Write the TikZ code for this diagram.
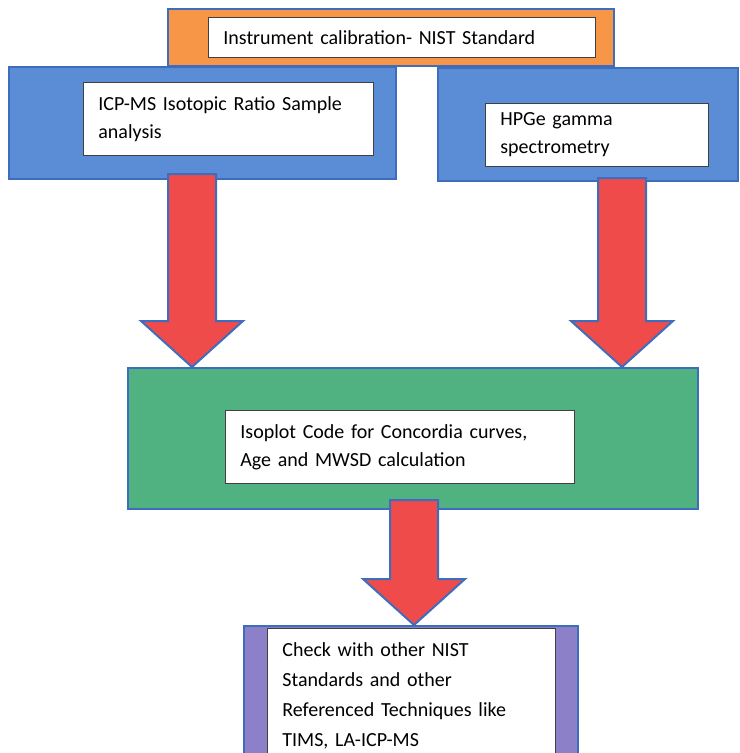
\documentclass[tikz,border=0pt]{standalone}
\usepackage{fontspec}
\setmainfont{Carlito}
\usepackage{xcolor}
\usepackage{tikz}
\usetikzlibrary{positioning,calc}

\definecolor{calorange}{HTML}{F79646}
\definecolor{stageblue}{HTML}{5B8DD6}
\definecolor{edgeblue}{HTML}{3F6DBE}
\definecolor{isogreen}{HTML}{50B281}
\definecolor{chkpurple}{HTML}{8C80C8}
\definecolor{arrowred}{HTML}{F04B4B}

% block arrow from #1 (top of shaft) down to #2 (tip)
\newcommand{\bigarrow}[2]{%
  \draw[fatarrow] ($(#1)+(-24,0)$) -- ($(#2)+(-24,-46)$) -- ($(#2)+(-51,-46)$)
    -- (#2) -- ($(#2)+(51,-46)$) -- ($(#2)+(24,-46)$) -- ($(#1)+(24,0)$) -- cycle;}

\begin{document}
\begin{tikzpicture}[x=0.75pt, y=-0.75pt,
    stage/.style={rectangle, draw=edgeblue, line width=1.5pt, anchor=north west, inner sep=0pt},
    textbox/.style={rectangle, draw=black!75, line width=0.6pt, fill=white, anchor=north west,
      inner xsep=11.25pt, inner ysep=0pt, align=left, font=\fontsize{15}{21}\selectfont},
    fatarrow/.style={draw=edgeblue, line width=1.5pt, fill=arrowred, line join=miter}
]
\useasboundingbox (0,0) rectangle (739,753);
\clip (0,0) rectangle (739,753);

% calibration
\node[stage, fill=calorange, minimum width=334.5pt, minimum height=42.75pt] (cal) at (167,8) {};
\node[textbox, text width=267.75pt, minimum height=30pt] (caltext) at (208,17) {Instrument calibration- NIST Standard};

% two measurements
\node[stage, fill=stageblue, minimum width=290.25pt, minimum height=84pt] (icp) at (8,66) {};
\node[textbox, text width=195pt, minimum height=54.75pt] (icptext) at (83,82) {ICP-MS Isotopic Ratio Sample\\analysis};

\node[stage, fill=stageblue, minimum width=225pt, minimum height=84.75pt] (hpge) at (437,67) {};
\node[textbox, text width=144.75pt, minimum height=47.25pt] (hpgetext) at (485,103) {HPGe gamma\\spectrometry};

% isoplot
\node[stage, fill=isogreen, minimum width=427.5pt, minimum height=105.75pt] (iso) at (127,367) {};
\node[textbox, text width=239.25pt, minimum height=54.75pt] (isotext) at (225,410) {Isoplot Code for Concordia curves,\\Age and MWSD calculation};

% check
\node[stage, fill=chkpurple, minimum width=250.5pt, minimum height=108pt] (chk) at (243,625) {};
\node[textbox, text width=193.5pt, minimum height=101.25pt, font=\fontsize{15}{22.5}\selectfont] (chktext) at (267,628) {Check with other NIST\\Standards and other\\Referenced Techniques like\\TIMS, LA-ICP-MS};

\coordinate (icpout) at (192,174);
\coordinate (hpgeout) at (622,178);
\coordinate (isoout) at (414,500);
\coordinate (icpin) at (icpout |- iso.north);
\coordinate (hpgein) at (hpgeout |- iso.north);
\coordinate (chkin) at (isoout |- chk.north);

\bigarrow{icpout}{icpin}
\bigarrow{hpgeout}{hpgein}
\bigarrow{isoout}{chkin}
\end{tikzpicture}
\end{document}
